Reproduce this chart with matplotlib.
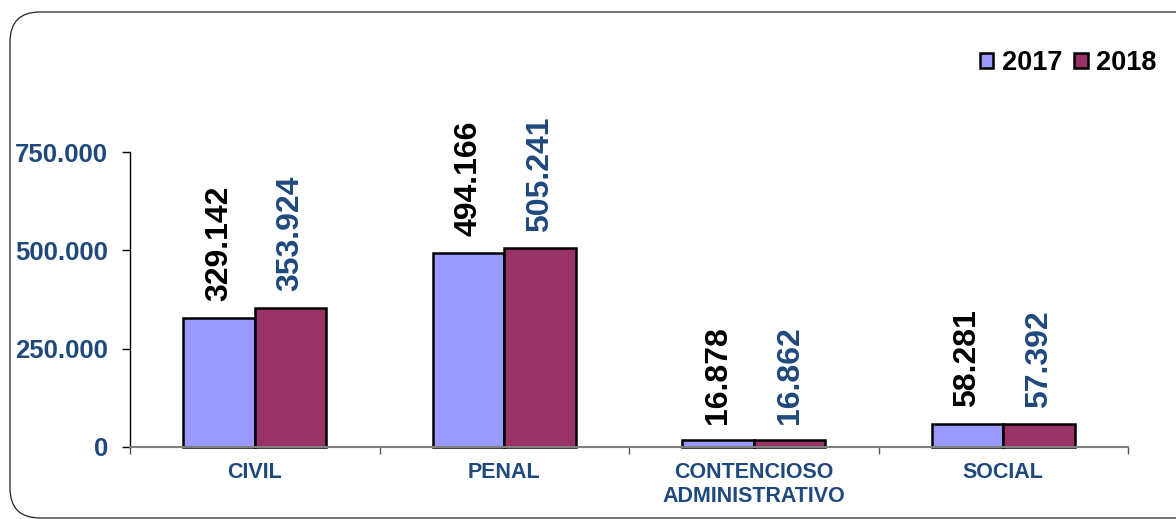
import numpy as np
import matplotlib.pyplot as plt
from matplotlib.patches import FancyBboxPatch, Patch

categorias = ['CIVIL', 'PENAL', 'CONTENCIOSO\nADMINISTRATIVO', 'SOCIAL']
v2017 = [329142, 494166, 16878, 58281]
v2018 = [353924, 505241, 16862, 57392]
yticks = [0, 250000, 500000, 750000]

azul = '#1F497D'
c2017 = '#9999FF'
c2018 = '#993366'

plt.rcParams['font.family'] = ['Liberation Sans', 'DejaVu Sans']
plt.rcParams['font.weight'] = 'bold'

fig = plt.figure(figsize=(11.76, 5.19), dpi=100)

# marco redondeado (en pulgadas para que las esquinas sean circulares)
marco = FancyBboxPatch((0.10, 0.01), 12.0, 5.06,
                       boxstyle='round,pad=0,rounding_size=0.3',
                       transform=fig.dpi_scale_trans, fill=False,
                       edgecolor='#222222', linewidth=0.9)
fig.patches.append(marco)

ax = fig.add_axes([130 / 1176, 72 / 519, 998 / 1176, 295 / 519])

x = np.arange(len(categorias))
w = 0.287
b1 = ax.bar(x - w / 2, v2017, w, color=c2017, edgecolor='black', linewidth=1.8, clip_on=False)
b2 = ax.bar(x + w / 2, v2018, w, color=c2018, edgecolor='black', linewidth=1.8, clip_on=False)

def fmt(v):
    return f'{v:,}'.replace(',', '.')

for rects, vals, col in [(b1, v2017, 'black'), (b2, v2018, azul)]:
    for r, v in zip(rects, vals):
        ax.annotate(fmt(v), (r.get_x() + r.get_width() / 2, v),
                    xytext=(0, 12), textcoords='offset points',
                    rotation=90, ha='center', va='bottom',
                    fontsize=23, fontweight='bold', color=col,
                    annotation_clip=False)

ax.set_xlim(-0.5, len(categorias) - 0.5)
ax.set_ylim(0, 750000)
ax.set_yticks(yticks)
ax.set_yticklabels([fmt(t) for t in yticks], color=azul, fontsize=18.5, fontweight='bold')
ax.tick_params(axis='y', length=6, width=1, pad=10)

ax.set_xticks(x)
ax.set_xticklabels(categorias, color=azul, fontsize=15.5, fontweight='bold', linespacing=1.2)
ax.set_xticks(np.arange(len(categorias) + 1) - 0.5, minor=True)
ax.tick_params(axis='x', which='major', length=0, pad=11)
ax.tick_params(axis='x', which='minor', length=5, width=1, color='#555555')

ax.spines['top'].set_visible(False)
ax.spines['right'].set_visible(False)
ax.spines['bottom'].set_color('#808080')
ax.spines['bottom'].set_linewidth(1.5)
ax.spines['left'].set_linewidth(1.0)

handles = [Patch(facecolor=c2017, edgecolor='black', linewidth=1.8),
           Patch(facecolor=c2018, edgecolor='black', linewidth=1.8)]
fig.legend(handles, ['2017', '2018'], loc='center right',
           bbox_to_anchor=(1170 / 1176, 1 - 63 / 519), ncol=2, frameon=False,
           handlelength=0.5, handleheight=0.5, handletextpad=0.3,
           columnspacing=0.45, borderpad=0,
           prop={'size': 19.5, 'weight': 'bold'})

fig.savefig('out.png', dpi=100)
